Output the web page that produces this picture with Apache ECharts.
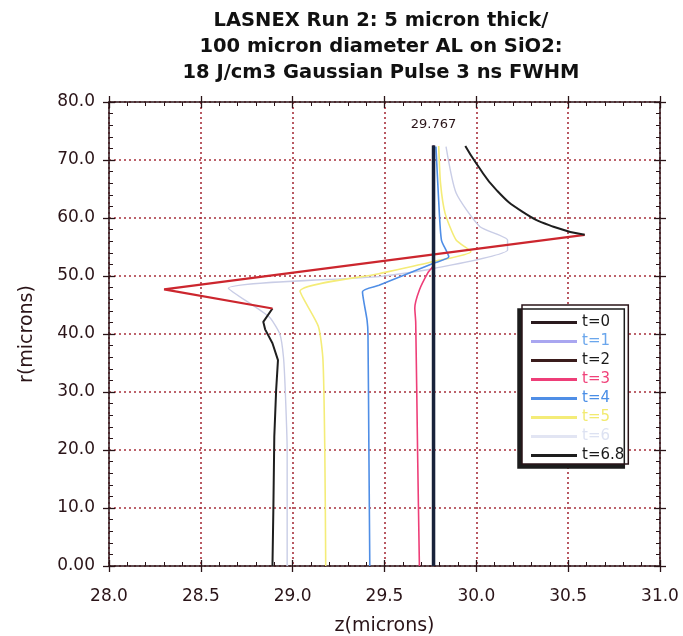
<!DOCTYPE html>
<html><head><meta charset="utf-8">
<script src="https://cdn.jsdelivr.net/npm/echarts@6/dist/echarts.min.js"></script>
<style>html,body{margin:0;padding:0;background:#fff}#c{width:683px;height:636px}</style>
</head><body><div id="c"></div>
<script>
// ---- data (z in microns, r in microns) ----
const titleLines = ['LASNEX Run 2: 5 micron thick/','100 micron diameter AL on SiO2:','18 J/cm3 Gaussian Pulse 3 ns FWHM'];
const seriesNames = ['t=0','t=1','t=2','t=3','t=4','t=5','t=6','t=6.8'];
const zTickLabels = ['28.0','28.5','29.0','29.5','30.0','30.5','31.0'];
const rTickLabels = ['0.00','10.0','20.0','30.0','40.0','50.0','60.0','70.0','80.0'];
const surfaceLabel = '29.767';
const t0 = [[29.767,0],[29.767,72.5]];
const t1 = [[29.767,0],[29.767,72.5]];
const t2 = [[29.767,0],[29.767,72.5]];
const t3 = [[29.69,0],[29.68,20],[29.67,42],[29.665,44.5],[29.69,47.6],[29.735,50.5],[29.767,52],[29.767,72.5]];
const t4 = [[29.42,0],[29.415,20],[29.41,40],[29.405,42.4],[29.38,47.3],[29.47,48.4],[29.767,52.2],[29.85,53.3],[29.81,56.2],[29.795,63],[29.78,72.3]];
const t5 = [[29.18,0],[29.175,20],[29.165,35.5],[29.14,41.3],[29.04,47.4],[29.47,50.4],[29.767,52.5],[29.97,54.2],[29.89,56.2],[29.83,60.8],[29.805,66],[29.795,72.4]];
const t6 = [[28.97,0],[28.97,20],[28.96,30],[28.95,36],[28.93,40],[28.87,43],[28.65,47.9],[29.47,49.9],[29.767,51.3],[30.17,54.5],[30.17,56.2],[30.02,58.5],[29.89,64.3],[29.835,72.3]];
const t68Bottom = [[28.89,0],[28.895,10],[28.9,22.3],[28.91,30.3],[28.92,35.5],[28.89,38.4],[28.85,40.8],[28.84,42.1],[28.89,44.4]];
const t68Diag = [[28.89,44.4],[28.30,47.7],[30.59,57.1]];
const t68Top = [[30.59,57.1],[30.42,58.5],[30.25,61.1],[30.11,64.8],[30.0,69.4],[29.94,72.4]];

const chart = echarts.init(document.getElementById('c'), null, {renderer:'canvas'});
const ink = '#2a1418';
const font = 'DejaVu Sans';
const gridColor = '#a8303c';

function ln(name, data, color, width, extra) {
  return Object.assign({
    name, type:'line', data, symbol:'none', showSymbol:false, animation:false,
    lineStyle:{color, width}, itemStyle:{color}, emphasis:{disabled:true}
  }, extra || {});
}
function xAx(pos, inside, showLine, showLabel, split, minor) {
  return {type:'value', min:28, max:31, interval:0.5, position:pos,
    axisLine:{show:showLine, onZero:false, lineStyle:{color:ink, width:1.5}},
    axisTick:{show:true, inside, length:6, lineStyle:{color:ink, width:1.3}},
    minorTick:{show:minor, splitNumber:5, length:4, lineStyle:{color:ink, width:1}},
    axisLabel:{show:showLabel, margin:22, color:ink, fontFamily:font, fontSize:17,
      formatter:(v)=>zTickLabels[Math.round((v-28)/0.5)]},
    splitLine:{show:split, lineStyle:{color:gridColor, type:[2,3], width:1.6}}};
}
function yAx(pos, inside, showLine, showLabel, split, minor) {
  return {type:'value', min:0, max:80, interval:10, position:pos,
    axisLine:{show:showLine, onZero:false, lineStyle:{color:ink, width:1.5}},
    axisTick:{show:true, inside, length:6, lineStyle:{color:ink, width:1.3}},
    minorTick:{show:minor, splitNumber:5, length:4, lineStyle:{color:ink, width:1}},
    axisLabel:{show:showLabel, margin:14, color:ink, fontFamily:font, fontSize:17,
      formatter:(v)=>rTickLabels[Math.round(v/10)]},
    splitLine:{show:split, lineStyle:{color:gridColor, type:[2,3], width:1.6}}};
}
const xMain = xAx('bottom', false, true, true, true, false);
xMain.name = 'z(microns)'; xMain.nameLocation = 'middle'; xMain.nameGap = 51;
xMain.nameTextStyle = {color:ink, fontFamily:font, fontSize:19};
const yMain = yAx('left', false, true, true, true, false);
yMain.name = 'r(microns)'; yMain.nameLocation = 'middle'; yMain.nameGap = 72; yMain.nameRotate = 90;
yMain.nameTextStyle = {color:ink, fontFamily:font, fontSize:19};

const legendText = ['#1a1a1a','#6aa6ec','#1a1a1a','#f0427a','#4a8ee6','#f2ea70','#dde2f2','#1a1a1a'];
const legendLine = ['#2a1a1e','#a9a6f0','#3a1c1c','#ee3e78','#4f8ee6','#f4ec78','#e2e5f3','#1e1e1e'];

chart.setOption({
  backgroundColor:'#fff',
  animation:false,
  graphic:[{type:'text', x:381, y:8, silent:true,
    style:{text:titleLines.join('\n'), fill:'#111', font:'bold 19.5px "DejaVu Sans"',
      textAlign:'center', textVerticalAlign:'top', lineHeight:26}}],
  grid:{left:109, right:23, top:102, bottom:70, containLabel:false, outerBoundsMode:'none'},
  xAxis:[xMain, xAx('bottom', true, false, false, false, true),
         xAx('top', false, true, false, false, false), xAx('top', true, false, false, false, true)],
  yAxis:[yMain, yAx('left', true, false, false, false, true),
         yAx('right', false, true, false, false, false), yAx('right', true, false, false, false, true)],
  legend:{
    orient:'vertical', left:522, top:305, itemWidth:46, itemHeight:3, itemGap:4,
    padding:[10,4,1,9], backgroundColor:'#fff', borderColor:ink, borderWidth:1.5,
    shadowColor:'#1c1c1c', shadowBlur:0, shadowOffsetX:-4, shadowOffsetY:4,
    selectedMode:false, icon:'rect',
    textStyle:{fontFamily:font, fontSize:15, lineHeight:14},
    data: seriesNames.map((n,i)=>({name:n, icon:'rect', textStyle:{color:legendText[i]},
      itemStyle:{color:legendLine[i]}}))
  },
  series:[
    ln(seriesNames[6], t6, '#c9cde6', 1.4, {smooth:0.2}),
    ln(seriesNames[5], t5, '#f4ec78', 1.6, {smooth:0.2}),
    ln(seriesNames[4], t4, '#4f8ee6', 1.6, {smooth:0.2}),
    ln(seriesNames[3], t3, '#ee3e78', 1.6, {smooth:0.2}),
    ln(seriesNames[1], t1, '#a9a6f0', 2),
    ln(seriesNames[2], t2, '#3a1c1c', 2),
    ln(seriesNames[7], t68Bottom, '#1e1e1e', 2),
    ln(seriesNames[7], t68Diag, '#cc262e', 2.2),
    ln(seriesNames[7], t68Top, '#1e1e1e', 2, {smooth:0.5}),
    ln(seriesNames[0], t0, '#18223a', 3.5, {
      markPoint:{symbol:'circle', symbolSize:0, silent:true, animation:false,
        data:[{coord:t0[t0.length-1], value:surfaceLabel}],
        label:{show:true, position:'top', distance:14, formatter:surfaceLabel,
          color:ink, fontFamily:font, fontSize:13}}
    })
  ]
});
</script></body></html>
